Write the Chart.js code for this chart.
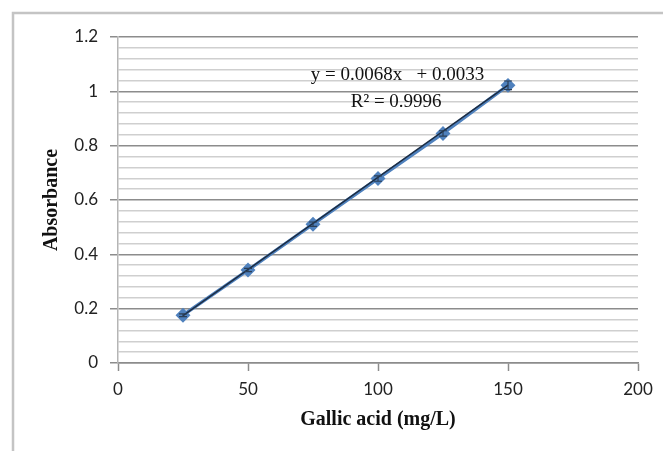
<!DOCTYPE html>
<html>
<head>
<meta charset="utf-8">
<script src="https://cdn.jsdelivr.net/npm/chart.js@4/dist/chart.umd.min.js"></script>
<style>
  html, body { margin: 0; padding: 0; background: #fff; }
  #wrap { width: 663px; height: 451px; }
</style>
</head>
<body>
<div id="wrap"><canvas id="calibChart" width="663" height="451"></canvas></div>
<script>
// Gallic acid calibration data
const concentrations = [25, 50, 75, 100, 125, 150];
const absorbances = [0.176, 0.342, 0.511, 0.679, 0.845, 1.022];
const errors = [0.005, 0.006, 0.008, 0.010, 0.010, 0.016];
const trendX = [25, 150];
const trendY = [0.174, 1.023];
const equationLines = ['y = 0.0068x   + 0.0033', 'R² = 0.9996'];

const blue = '#4f81bd';

// draws the outer frame of the chart object
const framePlugin = {
    id: 'frame',
    beforeDraw(chart) {
        const ctx = chart.ctx;
        ctx.save();
        ctx.strokeStyle = '#c4c4c4';
        ctx.lineWidth = 2.5;
        ctx.beginPath();
        ctx.moveTo(13, 451);
        ctx.lineTo(13, 13);
        ctx.lineTo(663, 13);
        ctx.stroke();
        ctx.restore();
    }
};

// small error bars on the data points
const errorBarPlugin = {
    id: 'errorBars',
    afterDatasetsDraw(chart) {
        const ctx = chart.ctx;
        const xs = chart.scales.x, ys = chart.scales.y;
        ctx.save();
        ctx.strokeStyle = '#2b3f57';
        ctx.lineWidth = 1.2;
        concentrations.forEach((c, i) => {
            const px = xs.getPixelForValue(c);
            const top = ys.getPixelForValue(absorbances[i] + errors[i]);
            const bot = ys.getPixelForValue(absorbances[i] - errors[i]);
            ctx.beginPath();
            ctx.moveTo(px, top); ctx.lineTo(px, bot);
            ctx.moveTo(px - 4, top); ctx.lineTo(px + 4, top);
            ctx.moveTo(px - 4, bot); ctx.lineTo(px + 4, bot);
            ctx.stroke();
        });
        ctx.restore();
    }
};

// trendline equation text
const equationPlugin = {
    id: 'equation',
    afterDraw(chart) {
        const ctx = chart.ctx;
        const xs = chart.scales.x, ys = chart.scales.y;
        ctx.save();
        ctx.fillStyle = '#111';
        ctx.font = '19px "Liberation Serif", "Times New Roman", serif';
        ctx.textAlign = 'center';
        ctx.textBaseline = 'middle';
        ctx.fillText(equationLines[0], xs.getPixelForValue(107.5), ys.getPixelForValue(1.059));
        ctx.fillText(equationLines[1], xs.getPixelForValue(107), ys.getPixelForValue(0.962));
        ctx.restore();
    }
};

const isMajor = v => Math.abs(v / 0.2 - Math.round(v / 0.2)) < 1e-6;

new Chart(document.getElementById('calibChart'), {
    type: 'scatter',
    data: {
        datasets: [
            {
                label: 'Absorbance',
                data: concentrations.map((c, i) => ({ x: c, y: absorbances[i] })),
                showLine: true,
                borderColor: blue,
                borderWidth: 3.5,
                backgroundColor: blue,
                pointStyle: 'rectRot',
                pointRadius: 5,
                pointBorderColor: blue,
                order: 2
            },
            {
                label: 'Trend',
                data: trendX.map((x, i) => ({ x: x, y: trendY[i] })),
                showLine: true,
                borderColor: '#1c2d44',
                borderWidth: 1.5,
                pointRadius: 0,
                order: 1
            }
        ]
    },
    options: {
        responsive: false,
        animation: false,
        layout: { padding: { top: 37, right: 25, left: 0, bottom: 0 } },
        plugins: {
            legend: { display: false },
            tooltip: { enabled: false }
        },
        scales: {
            x: {
                type: 'linear',
                min: 0,
                max: 200,
                ticks: {
                    stepSize: 50,
                    color: '#222',
                    padding: 8,
                    font: { family: 'Lato', size: 17 }
                },
                grid: {
                    drawOnChartArea: false,
                    tickLength: 8,
                    tickColor: '#8c8c8c',
                    tickWidth: 1.5
                },
                border: { color: '#8c8c8c', width: 1.5 },
                title: {
                    display: true,
                    text: 'Gallic acid (mg/L)',
                    color: '#111',
                    font: { family: 'Liberation Serif', size: 20, weight: 'bold' },
                    padding: { top: 0, bottom: 19 }
                },
                afterFit(scale) { scale.height = 88; }
            },
            y: {
                min: 0,
                max: 1.2,
                ticks: {
                    stepSize: 0.04,
                    autoSkip: false,
                    color: '#222',
                    padding: 12,
                    font: { family: 'Lato', size: 17 },
                    callback: v => isMajor(v) ? String(Math.round(v * 10) / 10) : ''
                },
                grid: {
                    color: ctx => isMajor(ctx.tick.value) ? '#8c8c8c' : '#cfcfcf',
                    lineWidth: 1.5,
                    tickLength: 8,
                    tickColor: ctx => isMajor(ctx.tick.value) ? '#8c8c8c' : 'rgba(0,0,0,0)'
                },
                border: { color: '#b5b5b5', width: 1.5 },
                title: {
                    display: true,
                    text: 'Absorbance',
                    color: '#111',
                    font: { family: 'Liberation Serif', size: 20, weight: 'bold' },
                    padding: { top: 40, bottom: 0 }
                },
                afterFit(scale) { scale.width = 118; }
            }
        }
    },
    plugins: [framePlugin, errorBarPlugin, equationPlugin]
});
</script>
</body>
</html>
